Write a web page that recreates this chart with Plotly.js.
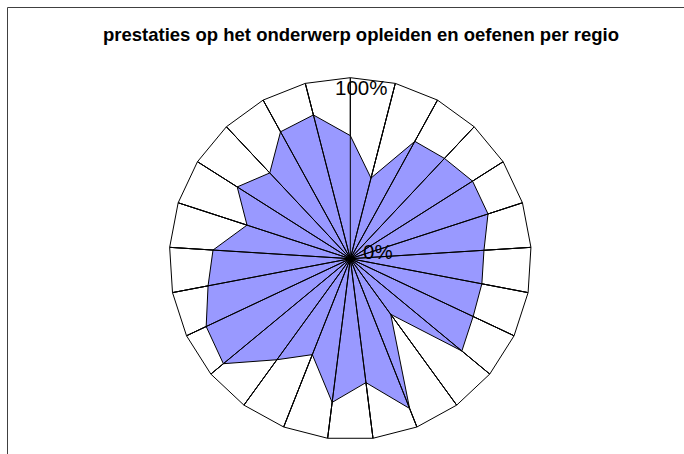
<!DOCTYPE html>
<html>
<head>
<meta charset="utf-8">
<script src="https://cdn.plot.ly/plotly-3.0.1.min.js"></script>
<style>html,body{margin:0;padding:0;background:#fff;}#chart{width:684px;height:454px;}</style>
</head>
<body>
<div id="chart"></div>
<script>
const regions = ["Regio 1","Regio 2","Regio 3","Regio 4","Regio 5","Regio 6","Regio 7","Regio 8","Regio 9","Regio 10","Regio 11","Regio 12","Regio 13","Regio 14","Regio 15","Regio 16","Regio 17","Regio 18","Regio 19","Regio 20","Regio 21","Regio 22","Regio 23","Regio 24","Regio 25"];
const scores = [68,46,74,76,80,80,74,74,75,80,38,89,69,80,57,69,91,88,80,76,60,74,65,80,82];
const radialTicks = [0,100];
const radialTickText = ["0%","100%"];
const chartTitle = "prestaties op het onderwerp opleiden en oefenen per regio";

const fillTrace = {
  type: "scatterpolar",
  r: scores.concat([scores[0]]),
  theta: regions.concat([regions[0]]),
  mode: "lines",
  fill: "toself",
  fillcolor: "#9999FF",
  line: {color: "#000000", width: 1},
  hoverinfo: "skip",
  showlegend: false
};

// spokes drawn above the fill (Excel draws the category grid on top)
const spokeR = [], spokeTheta = [];
regions.forEach(function (c) {
  spokeR.push(radialTicks[1], radialTicks[0]);
  spokeTheta.push(c, c);
});
const spokeTrace = {
  type: "scatterpolar",
  r: spokeR,
  theta: spokeTheta,
  mode: "lines",
  line: {color: "#000000", width: 1},
  hoverinfo: "skip",
  showlegend: false
};

const cx = 350.3, cy = 258.7, R = 181;
const W = 684, H = 454;
const FONT = "Liberation Sans, Arial, sans-serif";

const layout = {
  width: W, height: H,
  margin: {l: 0, r: 0, t: 0, b: 0},
  paper_bgcolor: "#ffffff",
  font: {family: FONT, color: "#000000"},
  title: {
    text: "<b>" + chartTitle + "</b>",
    font: {family: FONT, size: 18.5, color: "#000000"},
    x: 361 / W, xanchor: "center",
    y: 1 - 35 / H, yanchor: "middle"
  },
  polar: {
    domain: {x: [(cx - R) / W, (cx + R) / W], y: [1 - (cy + R) / H, 1 - (cy - R) / H]},
    gridshape: "linear",
    bgcolor: "#ffffff",
    angularaxis: {
      type: "category",
      rotation: 90,
      direction: "clockwise",
      showline: true, linecolor: "#000000", linewidth: 1,
      showgrid: true, gridcolor: "#000000", gridwidth: 1,
      ticks: "", showticklabels: false
    },
    radialaxis: {
      range: [0, 100],
      tickvals: radialTicks, ticktext: radialTickText,
      showticklabels: false, ticks: "",
      showline: false, showgrid: false
    }
  },
  annotations: [
    {text: radialTickText[1], xref: "paper", yref: "paper", x: 360.5 / W, y: 1 - 87.5 / H,
     xanchor: "center", yanchor: "middle", showarrow: false,
     font: {family: FONT, size: 20.5, color: "#000000"}},
    {text: radialTickText[0], xref: "paper", yref: "paper", x: 377.5 / W, y: 1 - 251.5 / H,
     xanchor: "center", yanchor: "middle", showarrow: false,
     font: {family: FONT, size: 20.5, color: "#000000"}}
  ],
  shapes: [
    {type: "rect", xref: "paper", yref: "paper", x0: 7.5 / W, x1: 1.05, y0: -0.05, y1: 1 - 7.5 / H,
     line: {color: "#404040", width: 1}, fillcolor: "rgba(0,0,0,0)", layer: "below"}
  ]
};

Plotly.newPlot("chart", [fillTrace, spokeTrace], layout, {displayModeBar: false, staticPlot: true});
</script>
</body>
</html>
